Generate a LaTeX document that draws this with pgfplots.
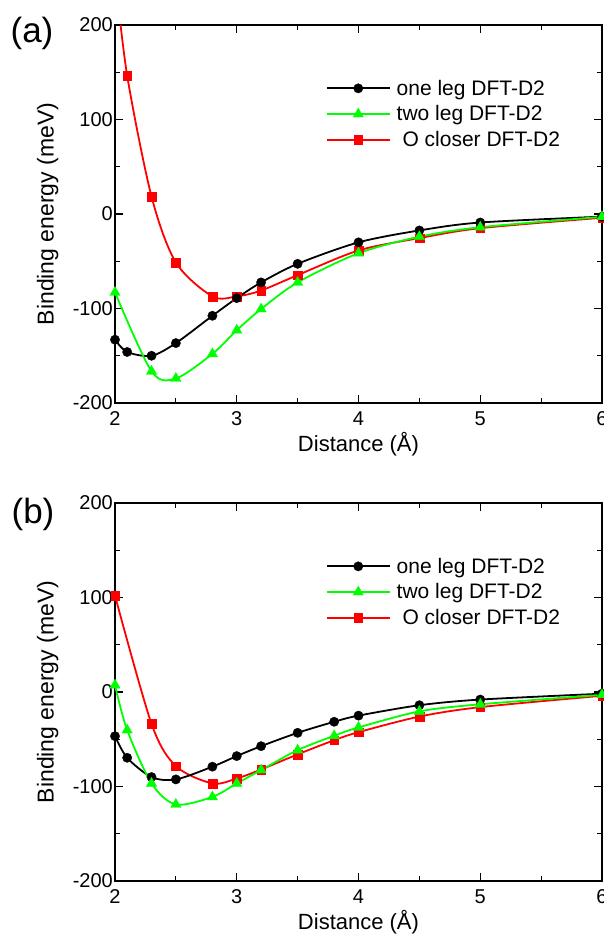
\documentclass[border=0pt]{standalone}
\usepackage{fontspec}
\setmainfont{Liberation Sans}
\usepackage{pgfplots}
\pgfplotsset{compat=1.18}

\pgfplotstableread{
x y
2.0 -133
2.1 -146
2.3 -150
2.5 -136.6
2.8 -107.7
3.0 -89
3.2 -72.4
3.5 -52.7
4.0 -30
4.5 -17.4
5.0 -9
6.0 -2.8
}\aBlack
\pgfplotstableread{
x y
2.0 -83
2.3 -166.5
2.5 -174
2.8 -148
3.0 -123
3.2 -100.6
3.5 -72.4
4.0 -41.5
4.5 -24
5.0 -14
6.0 -3
}\aGreen
\pgfplotstableread{
x y
2.0 255
2.1 146.4
2.3 18.5
2.5 -51.3
2.8 -87.2
3.0 -87.2
3.2 -81
3.5 -64.7
4.0 -38.6
4.5 -25.5
5.0 -15
6.0 -4
}\aRed
\pgfplotstableread{
x y
2.0 -46.7
2.1 -69.6
2.3 -90
2.5 -92.5
2.8 -79
3.0 -67.8
3.2 -57.3
3.5 -43.2
3.8 -31.5
4.0 -25
4.5 -14
5.0 -8
6.0 -1.8
}\bBlack
\pgfplotstableread{
x y
2.0 7.3
2.1 -40.3
2.3 -96.7
2.5 -119
2.8 -111
3.0 -96.7
3.2 -82.6
3.5 -61.5
3.8 -46.3
4.0 -37.5
4.5 -20.5
5.0 -13
6.0 -3
}\bGreen
\pgfplotstableread{
x y
2.0 102
2.3 -33.7
2.5 -78.4
2.8 -96.7
3.0 -91.5
3.2 -82
3.5 -66
3.8 -51
4.0 -42.5
4.5 -26
5.0 -16
6.0 -4
}\bRed

\pgfplotsset{
  blackline/.style={black, line width=1.8pt, mark=*, mark size=4.7pt,
    mark options={solid, line width=0.3pt, fill=black}},
  greenline/.style={green, line width=1.8pt, mark=triangle*, mark size=6pt,
    mark options={solid, line width=0.3pt, fill=green}},
  redline/.style={red, line width=1.8pt, mark=square*, mark size=4.3pt,
    mark options={solid, line width=0.3pt, fill=red}},
  panel/.style={
    scale only axis, width=487pt, height=378pt,
    xmin=2, xmax=6, ymin=-200, ymax=200,
    xtick={2,3,4,5,6}, ytick={-200,-100,0,100,200},
    minor x tick num=1, minor y tick num=1,
    tick align=inside,
    major tick length=8pt, minor tick length=5pt,
    every tick/.style={black, line width=1.2pt},
    axis line style={line width=1.6pt},
    /pgf/number format/assume math mode=true,
    tick label style={font=\fontsize{20}{24}\selectfont},
    xticklabel style={anchor=base, yshift=-22pt},
    yticklabel style={anchor=east, inner sep=0pt, xshift=-2pt},
    xlabel={Distance (Å)},
    ylabel={Binding energy (meV)},
    xlabel style={font=\fontsize{22}{26}\selectfont, at={(axis description cs:0.5,-0.1296)}, anchor=base},
    ylabel style={font=\fontsize{23}{27}\selectfont, at={(axis description cs:-0.138,0.5)}, anchor=center},
    legend image code/.code={
      \draw[##1] (0pt,0pt) -- (63pt,0pt);
      \draw[##1] plot coordinates {(31.5pt,0pt)};
    },
    legend style={draw=none, fill=none, at={(axis description cs:0.433,1)},
      anchor=north west, yshift=-53pt, inner sep=0pt, outer sep=0pt,
      row sep=5pt, font=\fontsize{21}{24}\selectfont,
      nodes={inner xsep=6pt, inner ysep=2pt}},
    legend cell align=left,
  }
}

\begin{document}
\begin{tikzpicture}[x=1pt,y=1pt]
\begin{axis}[panel, at={(115pt,-25pt)}, anchor=north west]
  \addplot[redline, smooth, forget plot] table[x=x,y=y] {\aRed};
  \addplot[blackline, smooth, forget plot] table[x=x,y=y] {\aBlack};
  \addplot[greenline, smooth, forget plot] table[x=x,y=y] {\aGreen};
  \addlegendimage{blackline}\addlegendentry{one leg DFT-D2}
  \addlegendimage{greenline}\addlegendentry{two leg DFT-D2}
  \addlegendimage{redline}\addlegendentry{\ O closer DFT-D2}
\end{axis}
\begin{axis}[panel, at={(115pt,-503pt)}, anchor=north west]
  \addplot[redline, smooth, forget plot] table[x=x,y=y] {\bRed};
  \addplot[blackline, smooth, forget plot] table[x=x,y=y] {\bBlack};
  \addplot[greenline, smooth, forget plot] table[x=x,y=y] {\bGreen};
  \addlegendimage{blackline}\addlegendentry{one leg DFT-D2}
  \addlegendimage{greenline}\addlegendentry{two leg DFT-D2}
  \addlegendimage{redline}\addlegendentry{\ O closer DFT-D2}
\end{axis}
\node[font=\fontsize{35}{40}\selectfont, inner sep=0pt] at (32pt,-33pt) {(a)};
\node[font=\fontsize{35}{40}\selectfont, inner sep=0pt] at (33pt,-514pt) {(b)};
\pgfresetboundingbox
\useasboundingbox (0pt,0pt) rectangle (603pt,-937pt);
\end{tikzpicture}
\end{document}
